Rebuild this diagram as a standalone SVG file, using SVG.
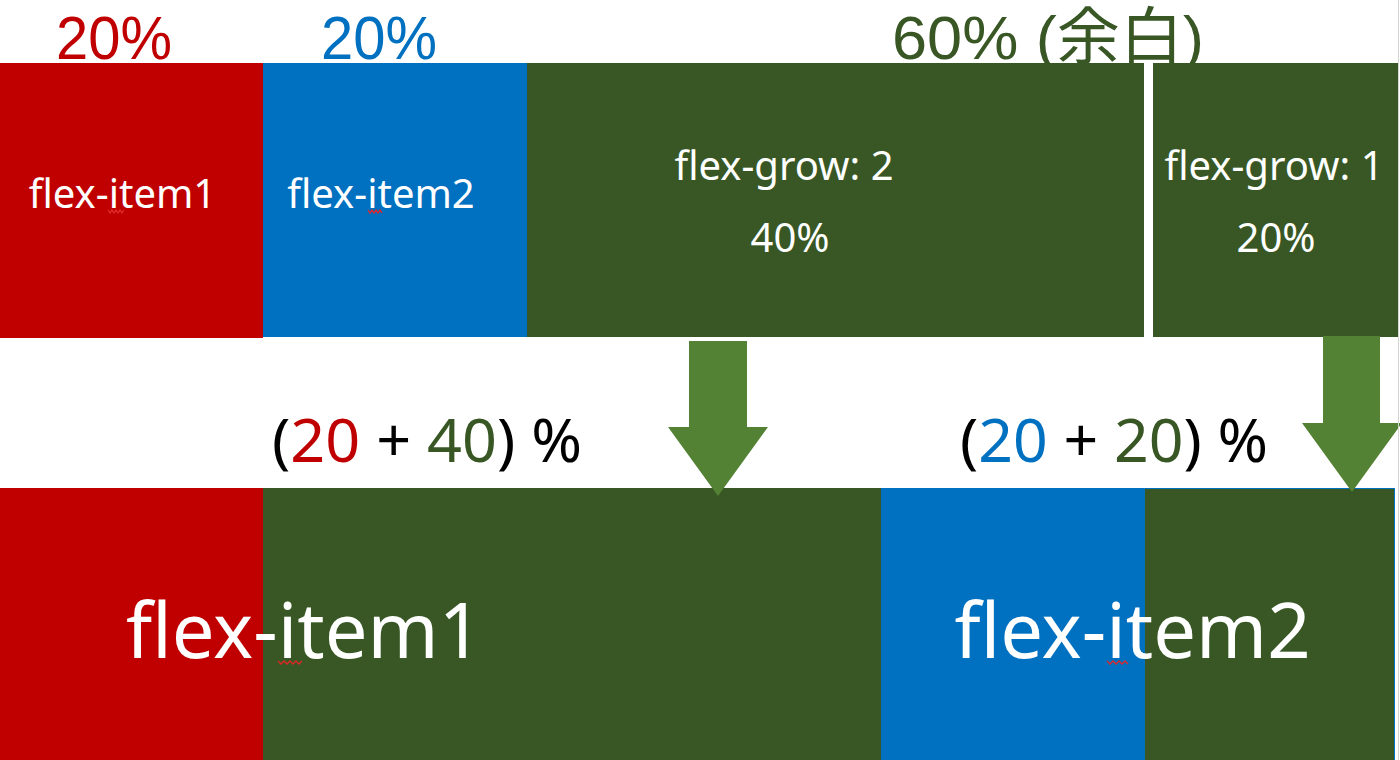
<svg xmlns="http://www.w3.org/2000/svg" width="1400" height="760" viewBox="0 0 1400 760">
  <style>
    .t { font-family: "Noto Sans", "Open Sans", "Noto Sans CJK JP", sans-serif; }
    .tl { font-family: "Liberation Sans", "Noto Sans CJK JP", sans-serif; }
    .w { fill: #ffffff; }
    .red { fill: #C00000; }
    .blue { fill: #0070C0; }
    .green { fill: #385724; }
    .blk { fill: #000000; }
    .arrow { fill: #548235; }
    .sq { fill: none; stroke: #e02828; stroke-width: 1.3; }
  </style>
  <rect x="0" y="0" width="1400" height="760" fill="#ffffff"/>

  <g id="top-labels">
    <text class="tl red" x="114" y="59" font-size="62" text-anchor="middle" textLength="116" lengthAdjust="spacingAndGlyphs">20%</text>
    <text class="tl blue" x="379" y="59" font-size="62" text-anchor="middle" textLength="116" lengthAdjust="spacingAndGlyphs">20%</text>
    <text class="tl green" x="1048" y="59" font-size="62" text-anchor="middle" textLength="312" lengthAdjust="spacingAndGlyphs">60% (余白)</text>
  </g>

  <g id="top-item1">
    <rect class="red" x="0" y="63" width="263" height="275"/>
    <text class="t w" x="122.5" y="208" font-size="40" text-anchor="middle">flex-item1</text>
    <polyline class="sq" points="108,210 110,213 112,210 114,213 116,210 118,213 120,210 122,213 124,210"/>
  </g>
  <g id="top-item2">
    <rect class="blue" x="263" y="63" width="264" height="274"/>
    <text class="t w" x="381" y="208" font-size="40" text-anchor="middle">flex-item2</text>
    <polyline class="sq" points="368,210 370,213 372,210 374,213 376,210 378,213 380,210 382,213"/>
  </g>
  <g id="top-grow2">
    <rect class="green" x="527" y="63" width="617" height="274"/>
    <text class="t w" x="784" y="180" font-size="40" text-anchor="middle">flex-grow: 2</text>
    <text class="t w" x="790" y="252" font-size="40" text-anchor="middle">40%</text>
  </g>
  <g id="top-grow1">
    <rect class="green" x="1153" y="63" width="245" height="274"/>
    <text class="t w" x="1274" y="180" font-size="40" text-anchor="middle">flex-grow: 1</text>
    <text class="t w" x="1276" y="252" font-size="40" text-anchor="middle">20%</text>
  </g>

  <g id="formula1">
    <text class="t blk" x="427" y="462" font-size="60" text-anchor="middle" textLength="310" lengthAdjust="spacingAndGlyphs">(<tspan class="red">20</tspan> + <tspan class="green">40</tspan>) %</text>
  </g>
  <g id="formula2">
    <text class="t blk" x="1114" y="462" font-size="60" text-anchor="middle" textLength="308" lengthAdjust="spacingAndGlyphs">(<tspan class="blue">20</tspan> + <tspan class="green">20</tspan>) %</text>
  </g>

  <g id="bottom-item1">
    <rect class="red" x="0" y="488" width="263" height="272"/>
    <rect class="green" x="263" y="488" width="618" height="272"/>
    <text class="t w" x="304" y="658" font-size="76" text-anchor="middle">flex-item1</text>
    <polyline class="sq" points="278,661 281,664 284,661 287,664 290,661 293,664 296,661 299,664 302,661"/>
  </g>
  <g id="bottom-item2">
    <rect class="blue" x="881" y="488" width="263" height="272"/>
    <rect class="green" x="1144.5" y="488.5" width="250" height="272" stroke="#0070C0" stroke-width="1"/>
    <text class="t w" x="1132.5" y="658" font-size="76" text-anchor="middle">flex-item2</text>
    <polyline class="sq" points="1107,661 1110,664 1113,661 1116,664 1119,661 1122,664 1125,661 1128,664"/>
  </g>

  <g id="connectors">
    <polygon class="arrow" points="689,341 747,341 747,427 768,427 718,496 668,427 689,427"/>
    <polygon class="arrow" points="1323,336 1380,336 1380,423 1402,423 1352,492 1302,423 1323,423"/>
  </g>

  <line x1="1398.5" y1="0" x2="1398.5" y2="760" stroke="#d4d4d4" stroke-width="1"/>
</svg>
